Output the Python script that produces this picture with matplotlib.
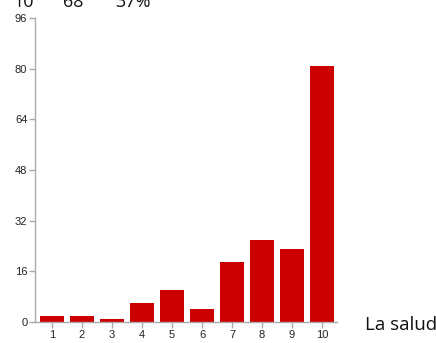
import matplotlib

matplotlib.use("Agg")
import matplotlib.pyplot as plt

categories = ["1", "2", "3", "4", "5", "6", "7", "8", "9", "10"]
counts = [2, 2, 1, 6, 10, 4, 19, 26, 23, 81]
y_ticks = [0, 16, 32, 48, 64, 80, 96]
header_parts = ["10", "68", "37%"]
side_label = "La salud"

W, H = 436, 343
fig = plt.figure(figsize=(W / 100, H / 100), dpi=100)
ax = fig.add_axes([35 / W, 21 / H, 302 / W, 304 / H])

positions = list(range(1, len(categories) + 1))
ax.bar(positions, counts, width=0.8, color="#cc0000", zorder=2)

ax.set_xlim(0.433, 10.5)
ax.set_ylim(0, 96)
ax.set_xticks(positions)
ax.set_xticklabels(categories)
ax.set_yticks(y_ticks)

for side in ("top", "right"):
    ax.spines[side].set_visible(False)
for side in ("left", "bottom"):
    ax.spines[side].set_color("#aaaaaa")
    ax.spines[side].set_linewidth(1)

ax.tick_params(axis="both", colors="#aaaaaa", labelcolor="#222222", length=4, width=1,
               pad=1.5, labelsize=8)
for lbl in ax.get_xticklabels() + ax.get_yticklabels():
    lbl.set_family("Liberation Sans")

# header text cut off at the top edge of the image
for x_px, txt in zip([13, 63, 115], header_parts):
    fig.text(x_px / W, 1 - 7 / H, txt, fontsize=13, family="Open Sans",
             va="baseline", ha="left", color="#111111")

fig.text(365 / W, 1 - 325 / H, side_label, fontsize=13.5, family="Open Sans",
         va="center", ha="left", color="#111111")

fig.savefig("out.png", dpi=100)
